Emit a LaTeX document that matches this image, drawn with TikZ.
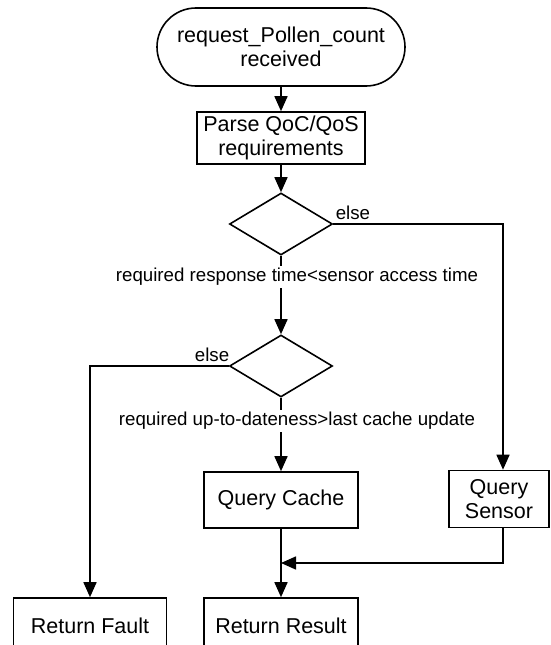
\documentclass[tikz,border=0pt]{standalone}
\usepackage{fontspec}
\setmainfont{Liberation Sans}
\usetikzlibrary{arrows.meta,shapes.geometric,shapes.misc}
\begin{document}
\begin{tikzpicture}[x=1pt,y=-1pt,
  line width=1.6pt,
  nodefont/.style={font=\fontsize{21.5}{23.5}\selectfont},
  boxnode/.style={draw, rectangle, inner sep=0pt, align=center, nodefont},
  termnode/.style={draw, rounded rectangle, inner sep=0pt, align=center, nodefont},
  decnode/.style={draw, diamond, inner sep=0pt, minimum width=103pt, minimum height=62pt},
  lbl/.style={inner sep=2pt, font=\fontsize{18.7}{21}\selectfont},
  arr/.style={-{Triangle[length=15pt,width=13pt]}}]
\clip (0,0) rectangle (551,645);

% nodes
\node[termnode, minimum width=248pt, minimum height=78pt] (start) at (281,47) {request\_Pollen\_count\\received};
\node[boxnode, minimum width=168pt, minimum height=52pt] (parse) at (281,138) {Parse QoC/QoS\\requirements};
\node[decnode] (d1) at (281,224) {};
\node[decnode] (d2) at (281,366) {};
\node[boxnode, minimum width=154pt, minimum height=56pt] (qcache) at (281,500) {Query Cache};
\node[boxnode, minimum width=100pt, minimum height=57pt] (qsensor) at (499,499) {Query\\Sensor};
\node[boxnode, minimum width=154pt, minimum height=56pt] (rresult) at (281,626) {Return Result};
\node[boxnode, minimum width=153pt, minimum height=56pt] (rfault) at (90,626) {Return Fault};

\coordinate (sx) at (503,224);
\coordinate (fx) at (90,366);
\coordinate (mg) at (281,563);
\coordinate (sy) at (503,563);

% connectors
\draw[arr] (start) -- (parse);
\draw[arr] (parse) -- (d1);
\draw[arr] (d1) -- (d2);
\draw[arr] (d1.east) -- (sx) -- (sx |- qsensor.north);
\draw[arr] (d2.west) -- (fx) -- (rfault.north);
\draw[arr] (d2) -- (qcache);
\draw[arr] (qcache) -- (rresult);
\draw[arr] (qsensor.south -| sx) -- (sy) -- (mg);

% labels
\node[lbl, fill=white] (c1) at (297,277) {required response time<sensor access time};
\node[lbl, fill=white] (c2) at (297,421) {required up-to-dateness>last cache update};
\node[lbl, anchor=south west] (e1) at (333,222) {else};
\node[lbl, anchor=south east] (e2) at (232,364) {else};
\end{tikzpicture}
\end{document}
